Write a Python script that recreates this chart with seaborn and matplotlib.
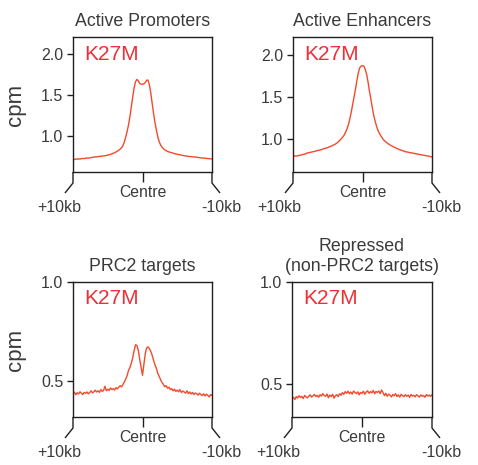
import numpy as np
import pandas as pd
import matplotlib
matplotlib.use("Agg")
import matplotlib.pyplot as plt
import seaborn as sns

# ---------------- data ----------------
position_kb = np.round(np.linspace(-10, 10, 101), 1)

active_promoters = [
    0.715, 0.712, 0.718, 0.716, 0.720, 0.718, 0.722, 0.725, 0.723, 0.728,
    0.730, 0.728, 0.733, 0.736, 0.738, 0.742, 0.745, 0.743, 0.748, 0.750,
    0.752, 0.754, 0.756, 0.758, 0.762, 0.766, 0.770, 0.775, 0.781, 0.788,
    0.797, 0.805, 0.815, 0.826, 0.840, 0.858, 0.885, 0.930, 0.990, 1.060,
    1.140, 1.240, 1.360, 1.480, 1.590, 1.660, 1.690, 1.670, 1.640, 1.630,
    1.630, 1.635, 1.650, 1.680, 1.680, 1.620, 1.520, 1.390, 1.270, 1.160,
    1.070, 0.990, 0.930, 0.890, 0.865, 0.845, 0.830, 0.820, 0.810, 0.805,
    0.800, 0.795, 0.790, 0.785, 0.780, 0.777, 0.772, 0.770, 0.766, 0.762,
    0.758, 0.756, 0.753, 0.750, 0.748, 0.747, 0.745, 0.743, 0.742, 0.740,
    0.738, 0.735, 0.733, 0.731, 0.730, 0.728, 0.726, 0.724, 0.722, 0.721,
    0.720,
]

active_enhancers = [
    0.795, 0.798, 0.802, 0.800, 0.806, 0.810, 0.812, 0.818, 0.822, 0.826,
    0.835, 0.838, 0.842, 0.846, 0.850, 0.852, 0.858, 0.862, 0.866, 0.870,
    0.875, 0.880, 0.886, 0.890, 0.895, 0.900, 0.908, 0.915, 0.922, 0.930,
    0.938, 0.948, 0.960, 0.975, 0.992, 1.010, 1.030, 1.055, 1.090, 1.130,
    1.180, 1.250, 1.330, 1.420, 1.510, 1.600, 1.700, 1.790, 1.850, 1.870,
    1.875, 1.870, 1.830, 1.770, 1.680, 1.570, 1.480, 1.380, 1.290, 1.220,
    1.160, 1.110, 1.075, 1.045, 1.020, 0.995, 0.980, 0.965, 0.952, 0.940,
    0.930, 0.920, 0.912, 0.903, 0.895, 0.888, 0.880, 0.875, 0.868, 0.862,
    0.857, 0.852, 0.848, 0.845, 0.840, 0.838, 0.835, 0.832, 0.828, 0.825,
    0.822, 0.818, 0.815, 0.812, 0.810, 0.806, 0.803, 0.800, 0.797, 0.793,
    0.790,
]

prc2_targets = [
    0.438, 0.445, 0.432, 0.442, 0.436, 0.447, 0.440, 0.433, 0.444, 0.439,
    0.446, 0.437, 0.443, 0.452, 0.441, 0.448, 0.455, 0.446, 0.452, 0.444,
    0.458, 0.449, 0.454, 0.475, 0.452, 0.460, 0.454, 0.466, 0.458, 0.463,
    0.456, 0.468, 0.462, 0.471, 0.478, 0.472, 0.485, 0.497, 0.512, 0.530,
    0.556, 0.570, 0.592, 0.620, 0.655, 0.684, 0.680, 0.655, 0.610, 0.570,
    0.530, 0.585, 0.640, 0.668, 0.673, 0.664, 0.650, 0.630, 0.605, 0.582,
    0.565, 0.540, 0.525, 0.508, 0.494, 0.485, 0.472, 0.478, 0.465, 0.470,
    0.458, 0.463, 0.452, 0.460, 0.449, 0.455, 0.447, 0.458, 0.443, 0.451,
    0.446, 0.440, 0.452, 0.438, 0.446, 0.436, 0.444, 0.433, 0.441, 0.437,
    0.430, 0.440, 0.433, 0.428, 0.437, 0.426, 0.435, 0.429, 0.421, 0.433,
    0.428,
]

repressed_non_prc2 = [
    0.425, 0.432, 0.421, 0.436, 0.428, 0.440, 0.431, 0.437, 0.426, 0.441,
    0.434, 0.429, 0.438, 0.444, 0.433, 0.439, 0.446, 0.436, 0.442, 0.432,
    0.445, 0.438, 0.450, 0.441, 0.437, 0.448, 0.430, 0.443, 0.436, 0.447,
    0.428, 0.440, 0.445, 0.435, 0.450, 0.442, 0.455, 0.447, 0.460, 0.452,
    0.462, 0.450, 0.458, 0.448, 0.463, 0.455, 0.450, 0.459, 0.444, 0.456,
    0.451, 0.462, 0.447, 0.458, 0.464, 0.452, 0.460, 0.454, 0.466, 0.449,
    0.461, 0.456, 0.463, 0.450, 0.468, 0.455, 0.440, 0.452, 0.437, 0.448,
    0.442, 0.434, 0.446, 0.439, 0.450, 0.436, 0.444, 0.433, 0.447, 0.440,
    0.435, 0.445, 0.437, 0.443, 0.432, 0.446, 0.438, 0.442, 0.434, 0.445,
    0.439, 0.433, 0.444, 0.437, 0.441, 0.432, 0.446, 0.438, 0.443, 0.436,
    0.445,
]

panel_titles = ["Active Promoters", "Active Enhancers",
                "PRC2 targets", "Repressed\n(non-PRC2 targets)"]
panel_series = [active_promoters, active_enhancers, prc2_targets, repressed_non_prc2]
sample_label = "K27M"
y_label = "cpm"
y_ticks = [[1.0, 1.5, 2.0], [1.0, 1.5, 2.0], [0.5, 1.0], [0.5, 1.0]]
y_limits = [(0.56, 2.20), (0.61, 2.21), (0.32, 1.0), (0.335, 1.0)]
left_label, centre_label, right_label = "+10kb", "Centre", "-10kb"

# ---------------- long-form table ----------------
frames = []
for title, vals in zip(panel_titles, panel_series):
    frames.append(pd.DataFrame({"panel": title, "position": position_kb, "cpm": vals}))
df = pd.concat(frames, ignore_index=True)

# ---------------- style ----------------
sns.set_theme(style="white")
plt.rcParams["font.family"] = ["Liberation Sans", "DejaVu Sans"]
TEXT = "#3a3a3a"
LINE = "#f24a2c"
LABEL_RED = "#ec3038"
SPINE = "#1f1f1f"

W, H = 478, 465
fig = plt.figure(figsize=(W / 100, H / 100), dpi=100)

# axes rectangles in pixels: left, top, width, height
rects_px = [(73, 37.5, 139, 134.5), (293, 37.5, 139, 134.5),
            (73, 282, 139, 135), (292, 282, 140, 135)]

for i, (title, (l, t, w, h)) in enumerate(zip(panel_titles, rects_px)):
    ax = fig.add_axes([l / W, (H - t - h) / H, w / W, h / H])
    sub = df[df["panel"] == title]
    sns.lineplot(data=sub, x="position", y="cpm", ax=ax, color=LINE, lw=1.0)
    ax.set_xlim(-10, 10)
    ax.set_ylim(*y_limits[i])
    ax.set_yticks(y_ticks[i])
    ax.set_yticklabels([f"{v:.1f}" for v in y_ticks[i]])
    ax.set_xticks([0])
    ax.set_xticklabels([centre_label])
    ax.set_xlabel("")
    ax.set_ylabel("")
    for s in ax.spines.values():
        s.set_color(SPINE)
        s.set_linewidth(1.0)
    ax.tick_params(axis="y", direction="out", length=4.5, width=1.0,
                   pad=2.5, labelsize=11.5, colors=SPINE, labelcolor=TEXT, left=True)
    ax.tick_params(axis="x", direction="out", length=7, width=1.0,
                   pad=2.5, labelsize=11.3, colors=SPINE, labelcolor=TEXT, bottom=True)
    ax.set_title(title, fontsize=12.8, color=TEXT, pad=8, linespacing=1.2)

    # sample label
    ax.text(0.08, 0.875, sample_label, transform=ax.transAxes, color=LABEL_RED,
            fontsize=15, ha="left", va="center")

    # bracket-like end ticks
    dy1 = 11 / h
    dy2 = 21 / h
    dx = 8 / w
    ax.plot([0, 0, -dx], [0, -dy1, -dy2], transform=ax.transAxes, color=SPINE,
            lw=1.0, clip_on=False, solid_capstyle="butt")
    ax.plot([1, 1, 1 + dx], [0, -dy1, -dy2], transform=ax.transAxes, color=SPINE,
            lw=1.0, clip_on=False, solid_capstyle="butt")
    ylab = -35 / h
    ax.text(-14 / w, ylab, left_label, transform=ax.transAxes, ha="center",
            va="center", fontsize=11.5, color=TEXT)
    ax.text(1 + 9 / w, ylab, right_label, transform=ax.transAxes, ha="center",
            va="center", fontsize=11.5, color=TEXT)

    if i % 2 == 0:
        ax.text(-57 / w, 0.5, y_label, transform=ax.transAxes, rotation=90,
                ha="center", va="center", fontsize=16, color=TEXT)

fig.savefig("out.png", dpi=100)
